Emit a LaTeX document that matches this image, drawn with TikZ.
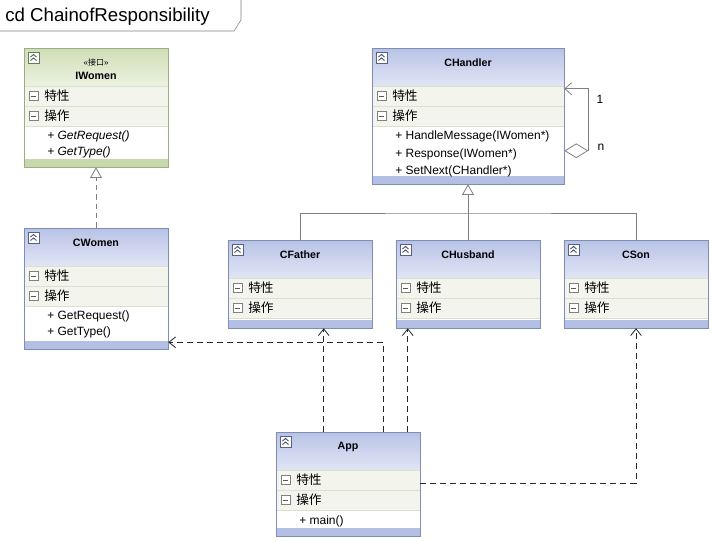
\documentclass[tikz,border=0pt]{standalone}
\usepackage{fontspec}
\setmainfont{Liberation Sans}
\newfontfamily\cjk{Noto Sans CJK SC}
\usetikzlibrary{arrows.meta,calc,fit}

\definecolor{bluetop}{HTML}{B8C2E6}
\definecolor{bluebot}{HTML}{E1E6F5}
\definecolor{blueband}{HTML}{B3BFE3}
\definecolor{blueline}{HTML}{7D8DB8}
\definecolor{greentop}{HTML}{D0DEB6}
\definecolor{greenbot}{HTML}{EDF2E1}
\definecolor{greenband}{HTML}{C8D8AC}
\definecolor{greenline}{HTML}{98AE84}
\definecolor{rowfill}{HTML}{F3F5EC}
\definecolor{rowline}{HTML}{DCE0D2}
\definecolor{connline}{HTML}{808080}

\tikzset{
  clsname/.style={font=\fontsize{8}{10}\selectfont\bfseries, inner sep=0pt},
  stereo/.style={font=\fontsize{6}{7}\selectfont, inner sep=0pt},
  compart/.style={font=\cjk\fontsize{9.5}{11}\selectfont, anchor=west, inner sep=0pt},
  opslist/.style={font=\fontsize{9}{11.5}\selectfont, align=left, anchor=north west, inner sep=0pt},
  iconbox/.style={draw=#1, fill=white, line width=0.5pt},
  gen/.style={draw=connline, line width=0.6pt, -{Triangle[open,length=8pt,width=9pt]}},
  genline/.style={draw=connline, line width=0.6pt},
  real/.style={gen, dash pattern=on 4pt off 3pt},
  dep/.style={draw=black!85, line width=0.6pt, dash pattern=on 4.5pt off 3pt, -{Straight Barb[length=5pt,width=8pt]}},
  assoc/.style={draw=connline, line width=0.6pt, {Diamond[open,length=18pt,width=11pt]}-{Straight Barb[length=5pt,width=9pt]}},
  mult/.style={font=\fontsize{9}{10}\selectfont, inner sep=0pt},
}

% #1 id, #2 left, #3 top, #4 right, #5 bottom, #6 colour set, #7 name, #8 name offset
\newcommand{\classbox}[8]{%
  \fill[#6band] (#2,#3) rectangle (#4,#5);
  \fill[white] (#2,#3+78) rectangle (#4,#5-8);
  \shade[top color=#6top, bottom color=#6bot] (#2,#3) rectangle (#4,#3+38);
  \fill[rowfill] (#2,#3+38) rectangle (#4,#3+78);
  \draw[rowline] (#2,#3+38) -- (#4,#3+38) (#2,#3+58) -- (#4,#3+58) (#2,#3+78) -- (#4,#3+78);
  % collapse icon
  \draw[iconbox=#6line!70!black] (#2+4,#3+4) rectangle (#2+15,#3+15);
  \draw[#6line!60!black, line width=0.7pt] (#2+6.5,#3+9) -- (#2+9.5,#3+6.5) -- (#2+12.5,#3+9)
    (#2+6.5,#3+12.5) -- (#2+9.5,#3+10) -- (#2+12.5,#3+12.5);
  % attributes / operations
  \draw[iconbox=gray] (#2+5,#3+43.5) rectangle (#2+14,#3+52.5);
  \draw[gray!70!black] (#2+7,#3+48) -- (#2+12,#3+48);
  \node[compart] (#1-attr) at (#2+20,#3+48) {特性};
  \draw[iconbox=gray] (#2+5,#3+63.5) rectangle (#2+14,#3+72.5);
  \draw[gray!70!black] (#2+7,#3+68) -- (#2+12,#3+68);
  \node[compart] (#1-oper) at (#2+20,#3+68) {操作};
  \node[draw=#6line, fit={(#2,#3) (#4,#5)}, inner sep=0pt] (#1) {};
  \node[clsname] (#1-name) at ({(#2+#4)/2},#3+#8) {#7};
}

\begin{document}
\begin{tikzpicture}[x=0.75pt,y=-0.75pt]
\useasboundingbox (0,0) rectangle (712,540);
\fill[white] (0,0) rectangle (712,540);

% frame tab
\draw[connline] (0,31) -- (234,31) -- (241,20) -- (241,0);
\node[anchor=west, font=\fontsize{14}{16}\selectfont, inner sep=0pt] (frame-title) at (5,17) {cd ChainofResponsibility};

% classes
\classbox{iwom}{24}{48}{168}{167}{green}{IWomen}{28}
\node[stereo] (iwom-st) at (96,62) {«{\cjk 接口}»};
\node[opslist, font=\fontsize{9}{11.5}\selectfont\itshape] (iwom-ops) at (47,131) {+ GetRequest()\\+ GetType()};

\classbox{hand}{372}{48}{564}{184}{blue}{CHandler}{15}
\node[opslist, font=\fontsize{9}{13}\selectfont] (hand-ops) at (395,131) {+ HandleMessage(IWomen*)\\+ Response(IWomen*)\\+ SetNext(CHandler*)};

\classbox{wom}{24}{228}{168}{349}{blue}{CWomen}{15}
\node[opslist] (wom-ops) at (47,311) {+ GetRequest()\\+ GetType()};

\classbox{fat}{228}{240}{372}{328}{blue}{CFather}{15}
\classbox{hus}{396}{240}{540}{328}{blue}{CHusband}{15}
\classbox{son}{564}{240}{708}{328}{blue}{CSon}{15}

\classbox{app}{276}{432}{420}{536}{blue}{App}{15}
\node[opslist] (app-ops) at (299,516) {+ main()};

% inheritance
\coordinate (gj) at (468,213);
\draw[gen] (hus.north) -- (hand.south);
\draw[genline] (fat.north) |- (gj) -| (son.north);
\draw[real] (wom.north) -- (iwom.south);

% successor link
\draw[assoc] ($(hand.north east)+(0,103)$) -- ++(24,0) |- ($(hand.north east)+(0,41)$);
\node[mult] (m-one) at (600,99) {1};
\node[mult] (m-n) at (601,147) {n};

% dependencies of App
\draw[dep] ($(app.north west)+(108,0)$) |- ($(wom.south east)+(0,-7)$);
\draw[dep] ($(app.north west)+(48,0)$) -- ($(fat.south west)+(96,0)$);
\draw[dep] ($(app.north west)+(132,0)$) -- ($(hus.south west)+(12,0)$);
\draw[dep] ($(app.north east)+(0,52)$) -| (son.south);
\end{tikzpicture}
\end{document}
